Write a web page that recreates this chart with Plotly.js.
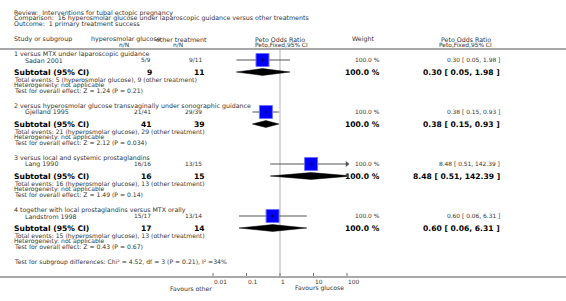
<!DOCTYPE html>
<html><head><meta charset="utf-8">
<script src="https://cdn.plot.ly/plotly-3.0.1.min.js"></script>
<style>body{margin:0;padding:0;background:#fff}#chart{width:566px;height:301px}</style>
</head><body><div id="chart"></div>
<script>
// ---- data ----
const titleLines = ["Review:  Interventions for tubal ectopic pregnancy",
  "Comparison:  16 hyperosmolar glucose under laparoscopic guidance versus other treatments",
  "Outcome:  1 primary treatment success"];
const groups = ["1 versus MTX under laparoscopic guidance",
  "2 versus hyperosmolar glucose transvaginally under sonographic guidance",
  "3 versus local and systemic prostaglandins",
  "4 together with local prostaglandins versus MTX orally"];
const studies = ["Sadan 2001", "Gjelland 1995", "Lang 1990", "Landstrom 1998"];
const evGlu = [5, 21, 16, 15];
const nGlu = [9, 41, 16, 17];
const evOth = [9, 29, 13, 13];
const nOth = [11, 39, 15, 14];
const orVal = [0.30, 0.38, 8.48, 0.60];
const ciLo = [0.05, 0.15, 0.51, 0.06];
const ciHi = [1.98, 0.93, 142.39, 6.31];
const weights = [100.0, 100.0, 100.0, 100.0];
const subOr = [0.30, 0.38, 8.48, 0.60];
const subLo = [0.05, 0.15, 0.51, 0.06];
const subHi = [1.98, 0.93, 142.39, 6.31];
const overallZ = ["Z = 1.24 (P = 0.21)", "Z = 2.12 (P = 0.034)", "Z = 1.49 (P = 0.14)", "Z = 0.43 (P = 0.67)"];
const subgroupTest = "Test for subgroup differences: Chi² = 4.52, df = 3 (P = 0.21), I² =34%";
const tickVals = [0.01, 0.1, 1, 10, 100];
const tickLabels = ["0.01", "0.1", "1", "10", "100"];
const favLeft = "Favours other";
const favRight = "Favours glucose";

// ---- layout helpers ----
const W = 566, H = 301;
const FONT = "DejaVu Sans";
const AXY = 277;
const XMIN = 0.01, XMAX = 100;
const ann = [];
function txt(x, y, t, anchor, size, bold, color) {
  ann.push({xref: 'paper', yref: 'y', x: x / W, y: y, text: bold ? '<b>' + t + '</b>' : t,
    showarrow: false, xanchor: anchor, yanchor: 'middle', borderpad: 0,
    font: {family: FONT, size: size, color: color || (bold ? '#000' : '#333')}});
}
const fmt2 = v => v.toFixed(2);
const ciText = (o, l, h) => fmt2(o) + ' [ ' + fmt2(l) + ', ' + fmt2(h) + ' ]';

// titles
titleLines.forEach((t, i) => txt(13, 12.7 + i * 5.7, t, 'left', 6.3));
// headers
txt(13, 39, 'Study or subgroup', 'left', 6.3);
txt(126, 39, 'hyperosmolar glucose', 'center', 6.3);
txt(124, 44.5, 'n/N', 'center', 5.9);
txt(181, 39, 'other treatment', 'center', 6.3);
txt(178, 44.5, 'n/N', 'center', 5.9);
txt(280, 39, 'Peto Odds Ratio', 'center', 6.3);
txt(281, 44.5, 'Peto,Fixed,95% CI', 'center', 5.9);
txt(363, 39, 'Weight', 'center', 6.3);
txt(466, 39, 'Peto Odds Ratio', 'center', 6.3);
txt(465, 44.5, 'Peto,Fixed,95% CI', 'center', 5.9);

const traces = [];
// reference line at 1
traces.push({type: 'scatter', mode: 'lines', x: [1, 1], y: [49, AXY], line: {color: '#d8d8d8', width: 2}, hoverinfo: 'skip', showlegend: false});

groups.forEach((g, i) => {
  const base = 54 + 52 * i;
  const yS = base + 6, yT = base + 18;
  txt(13, base, g, 'left', 6.3);
  txt(24, yS, studies[i], 'left', 6.3);
  txt(152, yS, evGlu[i] + '/' + nGlu[i], 'right', 5.9);
  txt(203, yS, evOth[i] + '/' + nOth[i], 'right', 5.9);
  txt(381, yS, weights[i].toFixed(1) + ' %', 'right', 5.9);
  txt(501, yS, ciText(orVal[i], ciLo[i], ciHi[i]), 'right', 5.9);
  txt(13, yT, 'Subtotal (95% CI)', 'left', 7.6, true);
  txt(153, yT, String(nGlu[i]), 'right', 7.6, true);
  txt(206, yT, String(nOth[i]), 'right', 7.6, true);
  txt(381, yT, weights[i].toFixed(1) + ' %', 'right', 7.6, true);
  txt(501, yT, ciText(subOr[i], subLo[i], subHi[i]), 'right', 7.6, true);
  txt(13, base + 26, 'Total events: ' + evGlu[i] + ' (hyperosmolar glucose), ' + evOth[i] + ' (other treatment)', 'left', 6.1);
  txt(13, base + 31.3, 'Heterogeneity: not applicable', 'left', 6.1);
  txt(13, base + 36.6, 'Test for overall effect: ' + overallZ[i], 'left', 6.1);

  // CI line
  traces.push({type: 'scatter', mode: 'lines', x: [ciLo[i], ciHi[i]], y: [yS, yS],
    line: {color: '#555', width: 1}, hoverinfo: 'skip', showlegend: false});
  if (ciHi[i] > XMAX) {
    traces.push({type: 'scatter', mode: 'markers', x: [XMAX], y: [yS], cliponaxis: false,
      marker: {symbol: 'triangle-right', size: 5, color: '#555'}, hoverinfo: 'skip', showlegend: false});
  }
  if (ciLo[i] < XMIN) {
    traces.push({type: 'scatter', mode: 'markers', x: [XMIN], y: [yS], cliponaxis: false,
      marker: {symbol: 'triangle-left', size: 5, color: '#555'}, hoverinfo: 'skip', showlegend: false});
  }
  // square
  traces.push({type: 'scatter', mode: 'markers', x: [orVal[i]], y: [yS],
    marker: {symbol: 'square', size: 13, color: '#0000ff', line: {color: '#7070ff', width: 1}},
    hoverinfo: 'skip', showlegend: false});
  traces.push({type: 'scatter', mode: 'markers', x: [orVal[i]], y: [yS],
    marker: {symbol: 'cross-thin', size: 3, line: {color: '#000080', width: 1}},
    hoverinfo: 'skip', showlegend: false});
  // diamond
  traces.push({type: 'scatter', mode: 'lines', fill: 'toself', fillcolor: '#000',
    x: [subLo[i], subOr[i], subHi[i], subOr[i], subLo[i]],
    y: [yT, yT - 3.4, yT, yT + 3.4, yT],
    line: {color: '#000', width: 0.5}, hoverinfo: 'skip', showlegend: false});
});

txt(13, 262, subgroupTest, 'left', 6.1);

// axis tick marks
traces.push({type: 'scatter', mode: 'markers', x: tickVals, y: tickVals.map(() => AXY - 2), cliponaxis: false,
  marker: {symbol: 'line-ns', size: 3, line: {color: '#777', width: 1}}, hoverinfo: 'skip', showlegend: false});
// tick labels (left-aligned at tick)
tickVals.forEach((v, i) => {
  ann.push({xref: 'x', yref: 'y', x: Math.log10(v), y: 282.3, text: tickLabels[i], showarrow: false,
    xanchor: 'left', yanchor: 'middle', borderpad: 0, font: {family: FONT, size: 5.9, color: '#333'}});
});
txt(213, 288.3, favLeft, 'right', 6.1);
txt(294, 288.3, favRight, 'left', 6.1);

const layout = {
  width: W, height: H, margin: {l: 0, r: 0, t: 0, b: 0}, paper_bgcolor: '#fff', plot_bgcolor: 'rgba(0,0,0,0)',
  showlegend: false,
  font: {family: FONT},
  xaxis: {type: 'log', range: [Math.log10(XMIN), Math.log10(XMAX)], domain: [213 / W, 347 / W],
    showgrid: false, zeroline: false, showline: false, ticks: '', showticklabels: false, fixedrange: true},
  yaxis: {range: [H, 0], domain: [0, 1], showgrid: false, zeroline: false,
    showline: false, showticklabels: false, ticks: '', fixedrange: true},
  shapes: [
    {type: 'line', xref: 'paper', yref: 'y', x0: 0, x1: 1, y0: 49, y1: 49, line: {color: '#a8a8a8', width: 2}},
    {type: 'line', xref: 'paper', yref: 'y', x0: 0, x1: 1, y0: AXY, y1: AXY, line: {color: '#a8a8a8', width: 2}}
  ],
  annotations: ann
};
Plotly.newPlot('chart', traces, layout, {staticPlot: true, displayModeBar: false});
</script></body></html>
